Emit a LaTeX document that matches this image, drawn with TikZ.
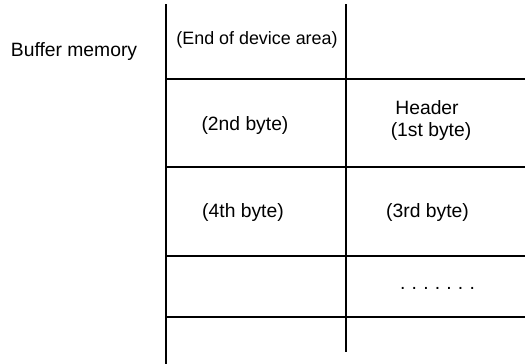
\documentclass[tikz,border=0pt]{standalone}
\usepackage{fontspec}
\setmainfont{Liberation Sans}
\begin{document}
\begin{tikzpicture}[x=1pt,y=-1pt,
  grid/.style={line width=2pt,black},
  lbl/.style={inner sep=0pt,font=\fontsize{19.3}{22}\selectfont,align=center},
  lbls/.style={inner sep=0pt,font=\fontsize{17.9}{21}\selectfont}]
\useasboundingbox (0,0) rectangle (525,364);
% grid coordinates
\coordinate (lt) at (165.7,4);
\coordinate (lb) at (165.7,364);
\coordinate (mt) at (345.7,4);
\coordinate (mb) at (345.7,351.7);
\draw[grid] (lt) -- (lb);
\draw[grid] (mt) -- (mb);
\foreach \yy/\nm in {78.5/a,167.3/b,256/c,317.3/d}{
  \coordinate (h\nm l) at (165.7,\yy);
  \coordinate (h\nm r) at (525,\yy);
  \draw[grid] (h\nm l) -- (h\nm r);
}
% labels
\node[lbl] (buf) at (74,52) {Buffer memory};
\node[lbls] (end) at (257,40) {(End of device area)};
\node[lbl] (b2) at (245,126) {(2nd byte)};
\node[lbl] (hdr) at (427,108) {Header};
\node[lbl] (b1) at (431,132) {(1st byte)};
\node[lbl] (b4) at (243,213) {(4th byte)};
\node[lbl] (b3) at (427.5,213) {(3rd byte)};
\node[lbl,anchor=base] (dots) at (437.5,289) {.\kern6.2pt.\kern6.2pt.\kern6.2pt.\kern6.2pt.\kern6.2pt.\kern6.2pt.};
\end{tikzpicture}
\end{document}
